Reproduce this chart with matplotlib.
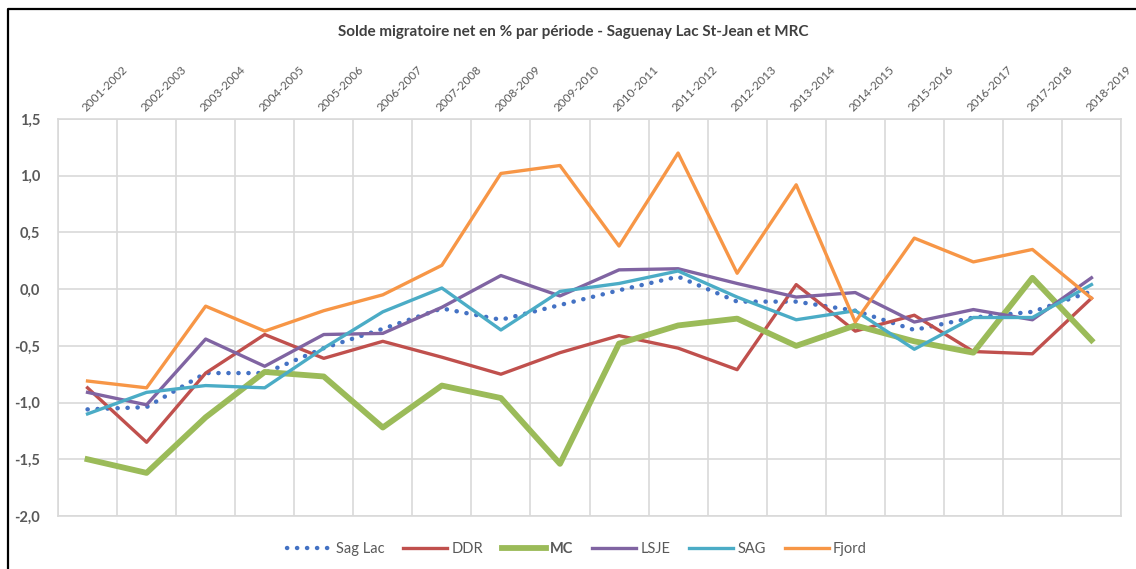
import matplotlib
matplotlib.use("Agg")
import matplotlib.pyplot as plt
from matplotlib.lines import Line2D
from matplotlib.ticker import FixedLocator, FuncFormatter

periods = [
    "2001-2002", "2002-2003", "2003-2004", "2004-2005", "2005-2006",
    "2006-2007", "2007-2008", "2008-2009", "2009-2010", "2010-2011",
    "2011-2012", "2012-2013", "2013-2014", "2014-2015", "2015-2016",
    "2016-2017", "2017-2018", "2018-2019",
]

sag_lac = [-1.06, -1.04, -0.74, -0.74, -0.52, -0.35, -0.17, -0.27, -0.14, -0.01,
           0.11, -0.11, -0.11, -0.19, -0.36, -0.25, -0.20, -0.02]
ddr = [-0.87, -1.35, -0.74, -0.40, -0.61, -0.46, -0.60, -0.75, -0.56, -0.41,
       -0.52, -0.71, 0.04, -0.37, -0.23, -0.55, -0.57, -0.08]
mc = [-1.50, -1.62, -1.13, -0.73, -0.77, -1.22, -0.85, -0.96, -1.54, -0.48,
      -0.32, -0.26, -0.50, -0.32, -0.46, -0.56, 0.10, -0.45]
lsje = [-0.91, -1.02, -0.44, -0.68, -0.40, -0.39, -0.16, 0.12, -0.06, 0.17,
        0.18, 0.05, -0.07, -0.03, -0.29, -0.18, -0.27, 0.10]
sag = [-1.10, -0.91, -0.85, -0.87, -0.52, -0.20, 0.01, -0.36, -0.02, 0.05,
       0.16, -0.07, -0.27, -0.19, -0.53, -0.25, -0.25, 0.04]
fjord = [-0.81, -0.87, -0.15, -0.37, -0.19, -0.05, 0.21, 1.02, 1.09, 0.38,
         1.20, 0.14, 0.92, -0.29, 0.45, 0.24, 0.35, -0.08]

plt.rcParams["font.family"] = ["Lato", "DejaVu Sans"]

fig = plt.figure(figsize=(11.36, 5.69), dpi=100)
ax = fig.add_axes([58 / 1136, 1 - 516 / 569, 1063 / 1136, 397 / 569])

x = list(range(len(periods)))
blue, red, green = "#4472C4", "#C0504D", "#9BBB59"
purple, cyan, orange = "#8064A2", "#4BACC6", "#F79646"
dots = (0, (0.05, 2.2))

ax.plot(x, sag_lac, color=blue, lw=3.2, linestyle=dots,
        dash_capstyle="round", label="Sag Lac", zorder=3)
ax.plot(x, ddr, color=red, lw=2.4, label="DDR", zorder=3)
ax.plot(x, mc, color=green, lw=4.2, label="MC", zorder=3)
ax.plot(x, lsje, color=purple, lw=2.4, label="LSJE", zorder=3)
ax.plot(x, sag, color=cyan, lw=2.4, label="SAG", zorder=3)
ax.plot(x, fjord, color=orange, lw=2.4, label="Fjord", zorder=3)

ax.set_xlim(-0.5, len(periods) - 0.5)
ax.set_ylim(-2.0, 1.5)

# category labels on top, gridlines between categories
ax.xaxis.tick_top()
ax.set_xticks(x)
ax.set_xticklabels(periods, rotation=45, ha="left", va="bottom",
                   rotation_mode="anchor", fontsize=8.5, color="#595959")
ax.tick_params(axis="x", which="major", length=0, pad=4)
ax.xaxis.set_minor_locator(FixedLocator([i - 0.5 for i in range(len(periods) + 1)]))
ax.tick_params(axis="x", which="minor", length=0)
ax.grid(axis="x", which="minor", color="#D9D9D9", lw=1.2)

yt = [-2.0, -1.5, -1.0, -0.5, 0.0, 0.5, 1.0, 1.5]
ax.set_yticks(yt)
ax.yaxis.set_major_formatter(FuncFormatter(lambda v, p: f"{v:.1f}".replace(".", ",")))
ax.tick_params(axis="y", length=0, pad=13, labelsize=10.5, labelcolor="#595959")
for t in ax.get_yticklabels():
    t.set_fontweight("bold")
ax.grid(axis="y", color="#D9D9D9", lw=1.2)
ax.set_axisbelow(True)
for s in ax.spines.values():
    s.set_color("#D9D9D9")
    s.set_linewidth(1.2)

fig.text(0.505, 1 - 32 / 569, "Solde migratoire net en % par période - Saguenay Lac St-Jean et MRC",
         ha="center", va="center", fontsize=11, fontweight="bold", color="#404040")

handles = [
    Line2D([], [], color=blue, lw=3.2, linestyle=dots, dash_capstyle="round"),
    Line2D([], [], color=red, lw=2.4),
    Line2D([], [], color=green, lw=4.2),
    Line2D([], [], color=purple, lw=2.4),
    Line2D([], [], color=cyan, lw=2.4),
    Line2D([], [], color=orange, lw=2.4),
]
labels = ["Sag Lac", "DDR", "MC", "LSJE", "SAG", "Fjord"]
leg = fig.legend(handles, labels, loc="center", bbox_to_anchor=(0.508, 1 - 549 / 569),
                 ncol=6, frameon=False, handlelength=3.0, columnspacing=1.3,
                 handletextpad=0.3, fontsize=10.5)
for t in leg.get_texts():
    t.set_color("#595959")
leg.get_texts()[2].set_fontweight("bold")

# chart border (top and left visible)
fig.add_artist(Line2D([8 / 1136, 8 / 1136, 1.0], [0.0, 1 - 9 / 569, 1 - 9 / 569],
                      transform=fig.transFigure, color="black", lw=1.6))

fig.savefig("out.png", dpi=100)
